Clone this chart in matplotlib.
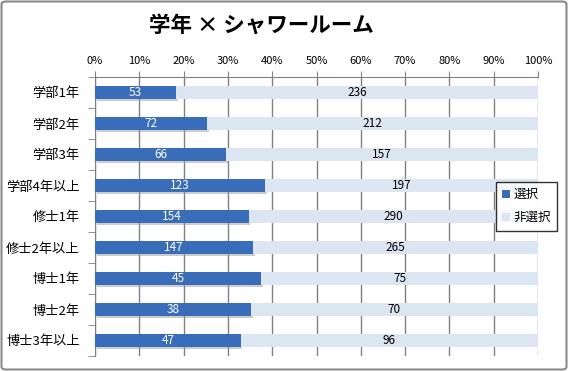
import matplotlib
matplotlib.use("Agg")
import matplotlib.pyplot as plt
from matplotlib.patches import FancyBboxPatch
import numpy as np

plt.rcParams['font.family'] = ['Noto Sans CJK JP', 'DejaVu Sans']

categories = ['学部1年', '学部2年', '学部3年', '学部4年以上', '修士1年',
              '修士2年以上', '博士1年', '博士2年', '博士3年以上']
selected = [53, 72, 66, 123, 154, 147, 45, 38, 47]
not_selected = [236, 212, 157, 197, 290, 265, 75, 70, 96]
series_names = ['選択', '非選択']
title = '学年 × シャワールーム'

sel = np.array(selected, dtype=float)
non = np.array(not_selected, dtype=float)
tot = sel + non
p_sel = sel / tot
p_non = non / tot

fig = plt.figure(figsize=(5.68, 3.71), dpi=100)
ax = fig.add_axes([95/568, 1 - 356/371, 443/568, 279/371])

y = np.arange(len(categories))
h = 0.4
c_sel = '#3A6DB9'
c_non = '#DCE6F2'

# shadow for the blue bars
ax.barh(y + 0.06, p_sel, height=h, left=0.004, color='#9a9a9a', alpha=0.5, zorder=2)
b1 = ax.barh(y, p_sel, height=h, color=c_sel, zorder=3, label=series_names[0])
b2 = ax.barh(y, p_non, height=h, left=p_sel, color=c_non, zorder=3, label=series_names[1])

for i in range(len(categories)):
    ax.text(p_sel[i] / 2, y[i], str(selected[i]), ha='center', va='center',
            color='white', fontsize=8.5, zorder=4)
    ax.text(p_sel[i] + p_non[i] / 2, y[i], str(not_selected[i]), ha='center',
            va='center', color='black', fontsize=8.5, zorder=4)

ax.set_xlim(0, 1)
ax.set_ylim(len(categories) - 0.5, -0.5)
ax.xaxis.tick_top()
ax.set_xticks(np.linspace(0, 1, 11))
ax.set_xticklabels([f'{int(round(v*100))}%' for v in np.linspace(0, 1, 11)], fontsize=8)
ax.tick_params(axis='x', direction='out', length=4, color='#808080', pad=4)
ax.set_yticks(y)
ax.set_yticklabels(categories, fontsize=9.5)
ax.set_yticks(np.arange(-0.5, len(categories), 1), minor=True)
ax.tick_params(axis='y', which='major', length=0, pad=11)
ax.tick_params(axis='y', which='minor', length=5, color='#808080', direction='out')

ax.grid(axis='x', color='#808080', linewidth=1.0, zorder=0)
ax.set_axisbelow(True)
for s in ['right', 'bottom']:
    ax.spines[s].set_visible(False)
ax.spines['top'].set_color('#808080')
ax.spines['left'].set_color('#808080')

leg = ax.legend(loc='upper left', bbox_to_anchor=((496-95)/443, (356-182)/279),
                fontsize=9, frameon=True, fancybox=False, edgecolor='black',
                handlelength=0.6, handleheight=0.6, handletextpad=0.3,
                borderpad=0.5, labelspacing=0.8, borderaxespad=0)
leg.get_frame().set_linewidth(1.0)
leg.set_zorder(10)

fig.suptitle(title, x=261/568, y=1 - 15/371, va='top', fontsize=15.5, fontweight='bold')

border = FancyBboxPatch((1.5/568, 1.5/371), 1 - 3/568, 1 - 3/371,
                        boxstyle='round,pad=0,rounding_size=0.008',
                        transform=fig.transFigure, fill=False,
                        edgecolor='#8a8a8a', linewidth=1.5)
fig.patches.append(border)

fig.savefig('out.png', dpi=100)
